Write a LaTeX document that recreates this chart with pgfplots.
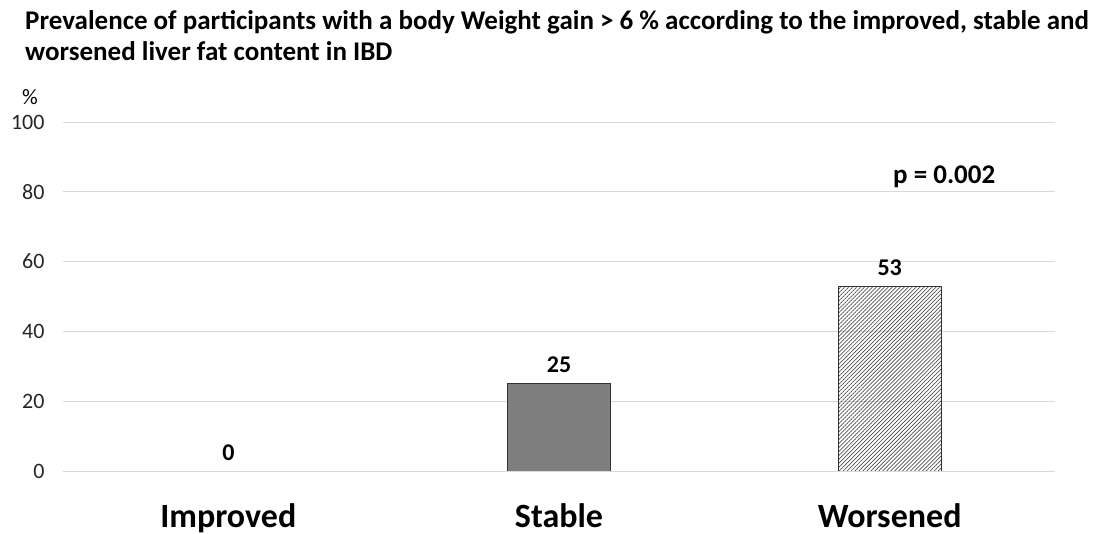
\documentclass[border=0pt]{standalone}
\usepackage{pgfplots}
\pgfplotsset{compat=1.18}
\usepackage{fontspec}
\setmainfont{Carlito}
\usetikzlibrary{patterns.meta}
\definecolor{gridc}{HTML}{D9D9D9}
\definecolor{barg}{HTML}{7F7F7F}
\begin{document}
\begin{tikzpicture}
\useasboundingbox (-63pt,-63pt) rectangle (1044pt,471pt);
\begin{axis}[
  at={(0,0)}, anchor=south west,
  scale only axis, width=992pt, height=349pt,
  xmin=-0.5, xmax=2.5, ymin=0, ymax=100,
  xtick={0,1,2}, xticklabels={Improved,Stable,Worsened},
  ytick={0,20,40,60,80,100},
  axis line style={draw=none},
  major tick length=0pt,
  ymajorgrids, grid style={gridc, line width=0.8pt},
  xticklabel style={font=\fontsize{34}{40}\selectfont\bfseries, yshift=-29pt},
  yticklabel style={font=\fontsize{22}{26}\selectfont, text=black!85, xshift=-15pt},
  /pgf/number format/assume math mode=true,
  ybar, bar width=103pt, bar shift=0pt,
  nodes near coords,
  every node near coord/.append style={font=\fontsize{24}{28}\selectfont\bfseries, yshift=7pt},
]
\addplot[draw=none, fill=none] coordinates {(0,0)};
\addplot[draw=black!80, fill=barg, line width=0.8pt] coordinates {(1,25)};
\addplot[draw=black!80, line width=0.8pt, pattern={Lines[angle=45,distance=2.8pt,line width=0.7pt]}, pattern color=black!70] coordinates {(2,53)};
\node[font=\fontsize{27}{30}\selectfont\bfseries] at (axis cs:2.165,84.2) {p = 0.002};
\end{axis}
\node[font=\fontsize{22}{26}\selectfont] at (-33pt,374pt) {\%};
\node[anchor=north west, inner sep=0pt, align=left, font=\fontsize{27}{31}\selectfont\bfseries] at (-38pt,461pt)
  {Prevalence of participants with a body Weight gain > 6 \% according to the improved, stable and\\worsened liver fat content in IBD};
\end{tikzpicture}
\end{document}
